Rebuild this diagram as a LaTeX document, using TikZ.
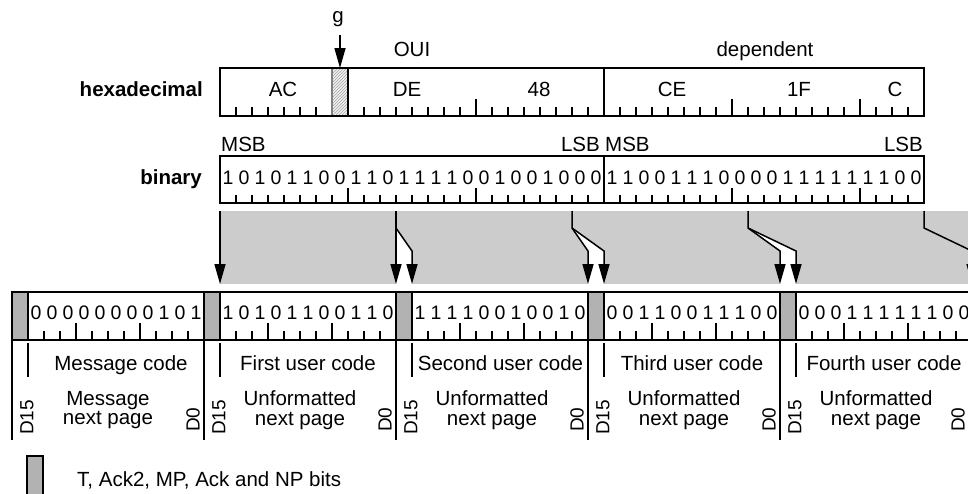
\documentclass[tikz,border=0pt]{standalone}
\usepackage{fontspec}
\setmainfont{Liberation Sans}
\usetikzlibrary{arrows.meta,patterns}
\begin{document}
\begin{tikzpicture}[x=1pt, y=-1pt,
  lbl/.style={font=\fontsize{20.5}{24}\selectfont, inner sep=0pt, anchor=base},
  page/.style={font=\fontsize{20.5}{19.5}\selectfont, inner sep=0pt, align=center},
  head/.style={font=\fontsize{20.5}{24}\selectfont\bfseries, inner sep=0pt, anchor=base east},
  bit/.style={font=\fontsize{19.5}{22}\selectfont, inner sep=0pt, anchor=base},
  edgeno/.style={font=\fontsize{19}{22}\selectfont, inner sep=0pt, rotate=90, anchor=west},
  frame/.style={line width=2pt},
  tick/.style={line width=1.3pt},
  ctrl/.style={draw=black, fill=gray!60, line width=2pt},
  feed/.style={line width=1.5pt, -{Triangle[width=11pt, length=20pt]}},
  band/.style={fill=gray!40}]
\useasboundingbox (0,0) rectangle (968,493);
\clip (0,0) rectangle (968,493);

\node[head] (hex) at (203,96.7) {hexadecimal};
\fill[gray!12] (332,68) rectangle (348,116);
\fill[pattern=north east lines, pattern color=gray!70] (332,68) rectangle (348,116);
\draw[gray, line width=1.5pt] (332,68) -- (332,116);
\draw[frame] (220,68) rectangle (924,116);
\draw[frame] (348,68) -- (348,116);
\draw[frame] (604,68) -- (604,116);
\foreach \i in {1,...,6,9,10,...,15,17,18,...,23,25,26,...,31,33,34,...,39,41,42,43}
  \draw[tick] (220+16*\i,107) -- (220+16*\i,116);
\foreach \i in {16,32,40}
  \draw[tick] (220+16*\i,99) -- (220+16*\i,116);
\node[lbl] (hAC) at (283,96.7) {AC};
\node[lbl] (hDE) at (407,96.7) {DE};
\node[lbl] (h48) at (539,96.7) {48};
\node[lbl] (hCE) at (672,96.7) {CE};
\node[lbl] (h1F) at (799,96.7) {1F};
\node[lbl] (hC) at (895,96.7) {C};
\node[lbl] (oui) at (412,56.5) {OUI};
\node[lbl] (dep) at (765,56.5) {dependent};
\node[lbl] (g) at (338,22) {g};
\coordinate (gtop) at (340,35);
\coordinate (gbit) at (340,68);
\draw[feed] (gtop) -- (gbit);

\node[head] (bin) at (202,184) {binary};
\node[lbl, anchor=base west] (msb1) at (221,151.7) {MSB};
\node[lbl, anchor=base east] (lsb1) at (600,151.7) {LSB};
\node[lbl, anchor=base west] (msb2) at (605,151.7) {MSB};
\node[lbl, anchor=base east] (lsb2) at (923,151.7) {LSB};
\draw[frame] (220,156) rectangle (924,203);
\draw[frame] (604,156) -- (604,203);
\foreach \i in {1,...,7,9,10,...,15,17,18,...,23,25,26,...,31,33,34,...,39,41,42,43}
  \draw[tick] (220+16*\i,195) -- (220+16*\i,203);
\foreach \i in {8,16,32,40}
  \draw[tick] (220+16*\i,188) -- (220+16*\i,203);
\foreach \b [count=\i from 0] in {1,0,1,0,1,1,0,0,1,1,0,1,1,1,1,0,0,1,0,0,1,0,0,0,1,1,0,0,1,1,1,0,0,0,0,1,1,1,1,1,1,1,0,0}
  \node[bit] (b\i) at (228+16*\i,184) {\b};

\fill[band] (220,211) rectangle (968,284);
\fill[white] (396,228) -- (412,251) -- (412,284) -- (396,284) -- cycle;
\fill[white] (572,228) -- (588,251) -- (588,284) -- (604,284) -- (604,251) -- cycle;
\fill[white] (748,228) -- (780,251) -- (780,284) -- (796,284) -- (796,251) -- cycle;
\coordinate (s0) at (220,211);
\coordinate (t0) at (220,284);
\coordinate (s1) at (396,211);
\coordinate (k1) at (396,228);
\coordinate (t1) at (396,284);
\coordinate (u1) at (412,284);
\coordinate (s2) at (572,211);
\coordinate (k2) at (572,228);
\coordinate (t2) at (588,284);
\coordinate (u2) at (604,284);
\coordinate (s3) at (748,211);
\coordinate (k3) at (748,228);
\coordinate (t3) at (780,284);
\coordinate (u3) at (796,284);
\coordinate (s4) at (924,211);
\coordinate (k4) at (924,228);
\coordinate (t4) at (972,284);
\draw[feed] (s0) -- (t0);
\draw[feed] (s1) -- (t1);
\draw[feed] (k1) -- (412,251) -- (u1);
\draw[feed] (s2) -- (k2) -- (588,251) -- (t2);
\draw[feed] (k2) -- (604,251) -- (u2);
\draw[feed] (s3) -- (k3) -- (780,251) -- (t3);
\draw[feed] (k3) -- (796,251) -- (u3);
\draw[feed] (s4) -- (k4) -- (972,251) -- (t4);

\draw[frame] (990,292) -- (12,292) -- (12,340) -- (990,340);
\foreach \x in {12,204,396,588,780}
  \draw[ctrl] (\x,292) rectangle (\x+16,340);
\foreach \f in {28,220,412,604,796} {
  \foreach \i in {1,2,4,5,6,8,9,10}
    \draw[tick] (\f+16*\i,331) -- (\f+16*\i,340);
  \foreach \i in {3,7}
    \draw[tick] (\f+16*\i,323) -- (\f+16*\i,340);
}
\foreach \f/\word in {28/{0,0,0,0,0,0,0,0,1,0,1}, 220/{1,0,1,0,1,1,0,0,1,1,0}, 412/{1,1,1,1,0,0,1,0,0,1,0}, 604/{0,0,1,1,0,0,1,1,1,0,0}, 796/{0,0,0,1,1,1,1,1,1,0,0}}
  \foreach \b [count=\i from 0] in \word
    \node[bit] (d\f-\i) at (\f+8+16*\i,319.3) {\b};

\foreach \x in {12,204,396,588,780}
  \draw[frame] (\x,340) -- (\x,440);
\foreach \x in {28,220,412,604,796}
  \draw[line width=1.5pt] (\x,343) -- (\x,377);
\node[lbl] (mc) at (121,370.7) {Message code};
\node[lbl] (uc1) at (308,370.7) {First user code};
\node[lbl] (uc2) at (500.5,370.7) {Second user code};
\node[lbl] (uc3) at (692,370.7) {Third user code};
\node[lbl] (uc4) at (884,370.7) {Fourth user code};
\node[page] (mp) at (108,410.3) {Message\\next page};
\foreach \x [count=\n] in {204,396,588,780}
  \node[page] (un\n) at (\x+96,410.3) {Unformatted\\next page};
\foreach \x [count=\n] in {12,204,396,588,780}
  \node[edgeno] (hi\n) at (\x+15,435) {D15};
\foreach \x [count=\n] in {193,385,577,769,958}
  \node[edgeno] (lo\n) at (\x,432) {D0};

\draw[ctrl] (27,456) rectangle (43,500);
\node[lbl, anchor=base west] (key) at (77,486.7) {T, Ack2, MP, Ack and NP bits};
\end{tikzpicture}
\end{document}
